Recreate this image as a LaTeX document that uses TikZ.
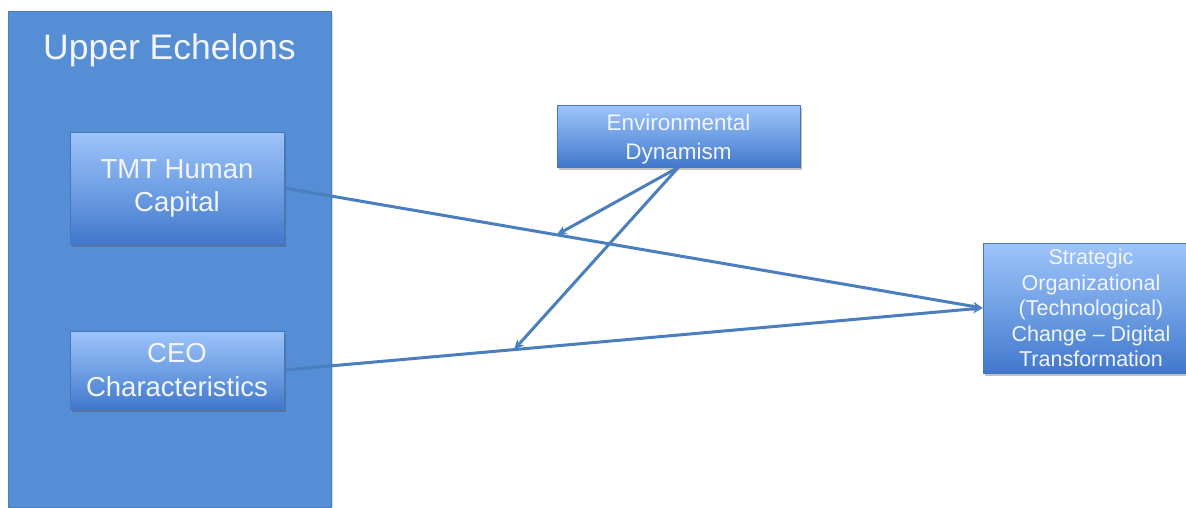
\documentclass[tikz,border=0pt]{standalone}
\usepackage{fontspec}
\setmainfont{Liberation Sans}
\usetikzlibrary{arrows.meta,calc,shadows}
\definecolor{panelblue}{RGB}{85,142,213}
\definecolor{paneledge}{RGB}{72,126,196}
\definecolor{boxtop}{RGB}{158,196,250}
\definecolor{boxmid}{RGB}{112,160,228}
\definecolor{boxbot}{RGB}{66,120,204}
\definecolor{boxedge}{RGB}{70,118,190}
\definecolor{linkblue}{RGB}{74,126,190}
\definecolor{txt}{RGB}{242,246,252}
\tikzset{
  x=1pt, y=1pt,
  panel/.style={fill=panelblue, draw=paneledge, line width=0.6pt},
  gbox/.style={rectangle, draw=boxedge, line width=0.5pt,
    top color=boxtop, bottom color=boxbot, middle color=boxmid,
    text=txt, align=center, inner sep=0pt,
    drop shadow={shadow xshift=1.5pt, shadow yshift=-2.5pt, opacity=0.35, fill=black!70}},
  link/.style={draw=linkblue, line width=3pt, -{Stealth[length=10pt,width=9pt]}}
}
\begin{document}
\begin{tikzpicture}
\useasboundingbox (0,0) rectangle (1186,-507);
\fill[black, opacity=0.15] (10,-14) rectangle (333,-507);
\path[panel] (8,-11) rectangle (331,-507.5);
\node[text=txt, font=\fontsize{35.5}{40}\selectfont] (title) at (169.5,-50) {Upper Echelons};

\node[gbox, minimum width=214, minimum height=112,
      font=\fontsize{27.5}{33}\selectfont] (tmt) at (177,-188) {TMT Human\\Capital};
\node[gbox, minimum width=214, minimum height=78,
      font=\fontsize{27.5}{34}\selectfont] (ceo) at (177,-370) {CEO\\Characteristics};
\node[gbox, minimum width=243, minimum height=62,
      font=\fontsize{22.5}{29}\selectfont] (env) at (678.5,-136) {};
\node[text=txt, align=center, inner sep=0pt,
      font=\fontsize{22.5}{29}\selectfont] (envtext) at (678.5,-139) {Environmental\\Dynamism};
\node[gbox, minimum width=216, minimum height=130,
      font=\fontsize{21.5}{25.5}\selectfont] (strat) at (1091,-308)
      {Strategic\\Organizational\\(Technological)\\Change -- Digital\\Transformation};

\coordinate (m1) at ($(tmt.east)!0.39!(strat.west)$);
\coordinate (m2) at ($(ceo.east)!0.329!(strat.west)$);

\draw[link] (tmt.east) -- (strat.west);
\draw[link] (ceo.east) -- (strat.west);
\draw[link] (env.south) -- (m1);
\draw[link] (env.south) -- (m2);
\end{tikzpicture}
\end{document}
